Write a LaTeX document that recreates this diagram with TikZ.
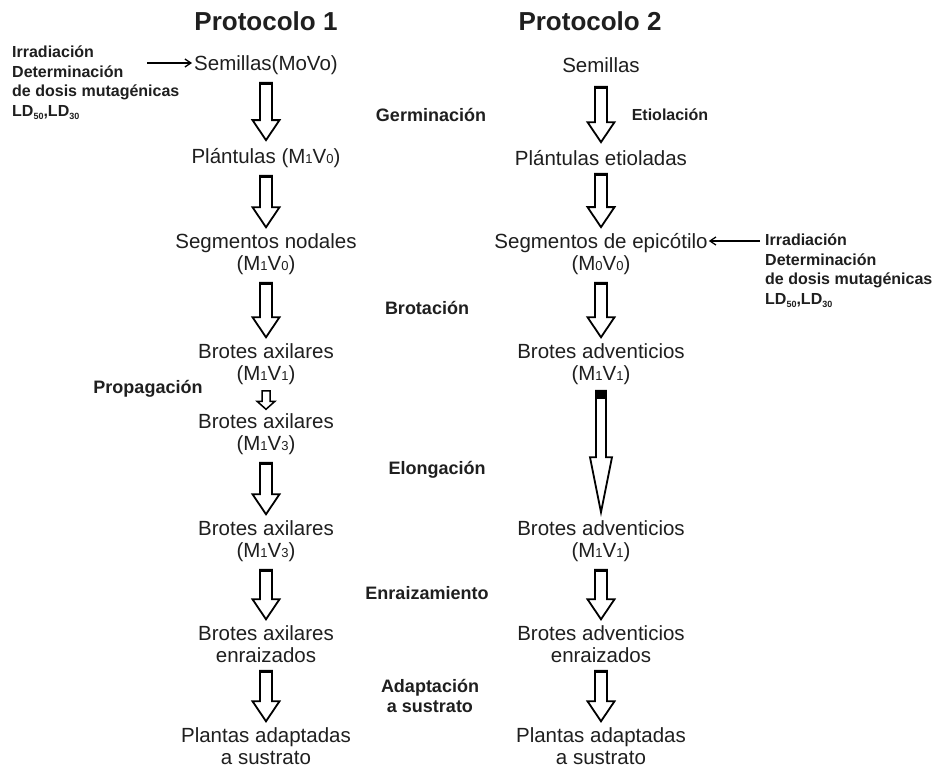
\documentclass[tikz,border=0pt]{standalone}
\usepackage{fontspec}
\setmainfont{Liberation Sans}
\usetikzlibrary{calc,arrows.meta}
\newcommand\sd[1]{\raisebox{-0.5pt}{\fontsize{13}{13}\selectfont #1}}
\newcommand\ldsub[1]{\raisebox{-3pt}{\fontsize{9}{9}\selectfont #1}}
% #1 start, #2 end, #3 shaft half width, #4 head half width, #5 head length, #6 cap
\newcommand\harr[6]{%
  \draw[harrowline] let \p1=(#1), \p2=(#2) in
   (\x2-#3,\y1) -- (\x2-#3,\y2+#5) -- (\x2-#4,\y2+#5) -- (\x2,\y2) -- (\x2+#4,\y2+#5) -- (\x2+#3,\y2+#5) -- (\x2+#3,\y1) -- cycle;
  \fill let \p1=(#1), \p2=(#2) in (\x2-#3,\y1) rectangle (\x2+#3,\y1-#6);}
\tikzset{
  harrowline/.style={draw=black, line width=1.8pt, fill=white, line join=miter},
  stage/.style={font=\fontsize{20.5}{22}\selectfont, align=center, inner sep=0pt, text=black!88},
  title/.style={font=\bfseries\fontsize{26}{30}\selectfont, inner sep=0pt, text=black!88},
  steplabel/.style={font=\bfseries\fontsize{18}{20}\selectfont, align=center, inner sep=0pt, text=black!88},
  irrlabel/.style={font=\bfseries\fontsize{16}{19.5}\selectfont, align=left, inner sep=0pt, text=black!88},
  thinarrow/.style={line width=1.3pt, -{Straight Barb[length=6pt,width=8pt]}}
}
\begin{document}
\begin{tikzpicture}[x=1pt,y=-1pt]
\useasboundingbox (0,0) rectangle (934,767);
\fill[white] (0,0) rectangle (934,767);
% titles
\node[title] (T1) at (266,21) {Protocolo 1};
\node[title] (T2) at (590,21) {Protocolo 2};
% left column
\node[stage] (L1) at (266,65) {Semillas(MoVo)};
\node[stage] (L2) at (266,158) {Plántulas (M\sd{1}V\sd{0})};
\node[stage] (L3) at (266,254) {Segmentos nodales\\(M\sd{1}V\sd{0})};
\node[stage] (L4) at (266,364) {Brotes axilares\\(M\sd{1}V\sd{1})};
\node[stage] (L5) at (266,434) {Brotes axilares\\(M\sd{1}V\sd{3})};
\node[stage] (L6) at (266,541) {Brotes axilares\\(M\sd{1}V\sd{3})};
\node[stage] (L7) at (266,644) {Brotes axilares\\enraizados};
\node[stage] (L8) at (266,746) {Plantas adaptadas\\a sustrato};
% right column
\node[stage] (R1) at (601,65) {Semillas};
\node[stage] (R2) at (601,158) {Plántulas etioladas};
\node[stage] (R3) at (601,254) {Segmentos de epicótilo\\(M\sd{0}V\sd{0})};
\node[stage] (R4) at (601,364) {Brotes adventicios\\(M\sd{1}V\sd{1})};
\node[stage] (R5) at (601,541) {Brotes adventicios\\(M\sd{1}V\sd{1})};
\node[stage] (R6) at (601,644) {Brotes adventicios\\enraizados};
\node[stage] (R7) at (601,746) {Plantas adaptadas\\a sustrato};
% step labels
\node[steplabel] (G) at (431,115) {Germinación};
\node[steplabel, font=\bfseries\fontsize{16}{18}\selectfont] (E) at (670,115) {Etiolación};
\node[steplabel] (B) at (427,308) {Brotación};
\node[steplabel] (P) at (148,389) {Propagación};
\node[steplabel] (El) at (437,470) {Elongación};
\node[steplabel] (En) at (427,593) {Enraizamiento};
\node[steplabel] (A) at (430,696) {Adaptación\\a sustrato};
% irradiation labels
\node[irrlabel, anchor=north west] (IL) at (12,46) {Irradiación\\Determinación\\de dosis mutagénicas\\LD\ldsub{50},LD\ldsub{30}};
\node[irrlabel, anchor=north west] (IR) at (765,234) {Irradiación\\Determinación\\de dosis mutagénicas\\LD\ldsub{50},LD\ldsub{30}};
\coordinate (irr1) at (147,63);
\coordinate (irr2) at (760,241);
\draw[thinarrow] (irr1) -- ($(irr1 -| L1.west)+(-2,0)$);
\draw[thinarrow] (irr2) -- ($(irr2 -| R3.east)+(1,0)$);
% hollow arrows left
\harr{$(L1.south)+(0,8)$}{$(L2.north)+(0,-8)$}{6pt}{13.5pt}{20pt}{2.5pt}
\harr{$(L2.south)+(0,8)$}{$(L3.north)+(0,-6)$}{6pt}{13.5pt}{20pt}{2.5pt}
\harr{$(L3.south)+(0,8)$}{$(L4.north)+(0,-6)$}{6pt}{13.5pt}{20pt}{2.5pt}
\draw[harrowline, line width=1.5pt] let \p1=($(L4.south)+(0,6)$), \p2=($(L5.north)+(0,-4)$) in
  (\x2-4pt,\y1) -- (\x2-4pt,\y2+8pt) -- (\x2-9pt,\y2+8pt) -- (\x2,\y2) -- (\x2+9pt,\y2+8pt) -- (\x2+4pt,\y2+8pt) -- (\x2+4pt,\y1) -- cycle;
\harr{$(L5.south)+(0,8)$}{$(L6.north)+(0,-6)$}{6pt}{13.5pt}{20pt}{2.5pt}
\harr{$(L6.south)+(0,8)$}{$(L7.north)+(0,-6)$}{6pt}{13.5pt}{20pt}{2.5pt}
\harr{$(L7.south)+(0,8)$}{$(L8.north)+(0,-6)$}{6pt}{13.5pt}{20pt}{2.5pt}
% hollow arrows right
\harr{$(R1.south)+(0,14)$}{$(R2.north)+(0,-8)$}{6pt}{13.5pt}{20pt}{2.5pt}
\harr{$(R2.south)+(0,8)$}{$(R3.north)+(0,-6)$}{6pt}{13.5pt}{20pt}{2.5pt}
\harr{$(R3.south)+(0,8)$}{$(R4.north)+(0,-6)$}{6pt}{13.5pt}{20pt}{2.5pt}
\harr{$(R4.south)+(0,6)$}{$(R5.north)+(0,-8)$}{5pt}{11pt}{55pt}{8pt}
\harr{$(R5.south)+(0,8)$}{$(R6.north)+(0,-6)$}{6pt}{13.5pt}{20pt}{2.5pt}
\harr{$(R6.south)+(0,8)$}{$(R7.north)+(0,-6)$}{6pt}{13.5pt}{20pt}{2.5pt}
\end{tikzpicture}
\end{document}
